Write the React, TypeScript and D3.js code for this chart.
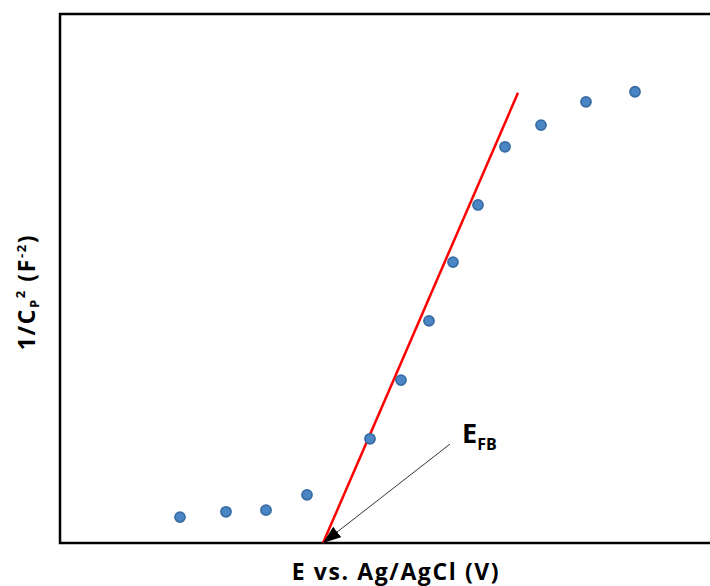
import { useRef, useEffect } from 'react';
import * as d3 from 'd3';

// Mott-Schottky data (E in V vs Ag/AgCl, 1/Cp^2 in arbitrary units)
const potentials = [-0.9, -0.785, -0.685, -0.5825, -0.425, -0.3475, -0.2775, -0.2175, -0.155, -0.0875, 0.0025, 0.115, 0.2375];
const invCap2 = [0.49, 0.59, 0.62, 0.91, 1.97, 3.08, 4.2, 5.31, 6.39, 7.49, 7.9, 8.34, 8.53];

// linear fit of the depletion region, extrapolated to the x axis
const fitX = [-0.5425, -0.055];
const fitY = [0, 8.51];

// annotation: arrow from label to flat-band potential
const eFb = -0.5425;
const labelAt = [-0.225, 1.87];

const xDomain = [-1.2, 0.45];
const yDomain = [0, 10];

export default function App() {
  const svgRef = useRef<SVGSVGElement>(null);
  const width = 710;
  const height = 586;
  const margin = { top: 14, right: -10, bottom: 43, left: 60 };

  useEffect(() => {
    if (!svgRef.current) return;
    const svg = d3.select(svgRef.current);
    svg.selectAll('*').remove();

    const innerW = width - margin.left - margin.right;
    const innerH = height - margin.top - margin.bottom;

    const x = d3.scaleLinear().domain(xDomain).range([0, innerW]);
    const y = d3.scaleLinear().domain(yDomain).range([innerH, 0]);

    const defs = svg.append('defs');
    defs.append('marker')
      .attr('id', 'arrowhead')
      .attr('viewBox', '0 0 10 10')
      .attr('preserveAspectRatio', 'none')
      .attr('refX', 10)
      .attr('refY', 5)
      .attr('markerWidth', 18)
      .attr('markerHeight', 13)
      .attr('markerUnits', 'userSpaceOnUse')
      .attr('orient', 'auto')
      .append('path')
      .attr('d', 'M0,0 L10,5 L0,10 Z')
      .attr('fill', '#000');

    const g = svg.append('g').attr('transform', `translate(${margin.left},${margin.top})`);

    // plot frame
    g.append('rect')
      .attr('x', 0)
      .attr('y', 0)
      .attr('width', innerW)
      .attr('height', innerH)
      .attr('fill', 'none')
      .attr('stroke', '#000')
      .attr('stroke-width', 2.5);

    // fit line
    const line = d3.line<number>()
      .x((d, i) => x(fitX[i]))
      .y((d) => y(d));
    g.append('path')
      .datum(fitY)
      .attr('d', line)
      .attr('fill', 'none')
      .attr('stroke', '#ff0000')
      .attr('stroke-width', 2.5);

    // points
    g.selectAll('circle.pt')
      .data(potentials)
      .enter()
      .append('circle')
      .attr('class', 'pt')
      .attr('cx', (d) => x(d))
      .attr('cy', (d, i) => y(invCap2[i]))
      .attr('r', 5)
      .attr('fill', '#4a86c5')
      .attr('stroke', '#386ca3')
      .attr('stroke-width', 1.8);

    // arrow annotation
    g.append('line')
      .attr('x1', x(labelAt[0]))
      .attr('y1', y(labelAt[1]))
      .attr('x2', x(eFb))
      .attr('y2', y(0))
      .attr('stroke', '#333')
      .attr('stroke-width', 1)
      .attr('marker-end', 'url(#arrowhead)');

    const lbl = g.append('text')
      .attr('x', x(labelAt[0]) + 12)
      .attr('y', y(labelAt[1]) - 1)
      .attr('font-family', 'Open Sans, sans-serif')
      .attr('font-weight', 'bold')
      .attr('font-size', 27)
      .attr('fill', '#000');
    lbl.append('tspan').text('E');
    lbl.append('tspan').attr('font-size', 16).attr('dy', 7).text('FB');

    // x axis title
    svg.append('text')
      .attr('x', margin.left + x(-0.36))
      .attr('y', 580)
      .attr('text-anchor', 'middle')
      .attr('font-family', 'Open Sans, sans-serif')
      .attr('font-weight', 'bold')
      .attr('font-size', 23)
      .attr('letter-spacing', 1.6)
      .text('E vs. Ag/AgCl (V)');

    // y axis title
    const yt = svg.append('text')
      .attr('transform', `translate(35,292) rotate(-90)`)
      .attr('text-anchor', 'middle')
      .attr('font-family', 'Open Sans, sans-serif')
      .attr('font-weight', 'bold')
      .attr('font-size', 23)
      .attr('letter-spacing', 1.6);
    yt.append('tspan').text('1/C');
    yt.append('tspan').attr('font-size', 13).attr('dy', 4).text('P');
    yt.append('tspan').attr('font-size', 13).attr('dy', -14).text('2');
    yt.append('tspan').attr('dy', 10).text(' (F');
    yt.append('tspan').attr('font-size', 13).attr('dy', -9).text('-2');
    yt.append('tspan').attr('dy', 9).text(')');
  }, []);

  return (
    <div style={{ position: 'absolute', left: 0, top: 0, width, height, background: '#fff' }}>
      <svg ref={svgRef} width={width} height={height} style={{ display: 'block' }} />
    </div>
  );
}
